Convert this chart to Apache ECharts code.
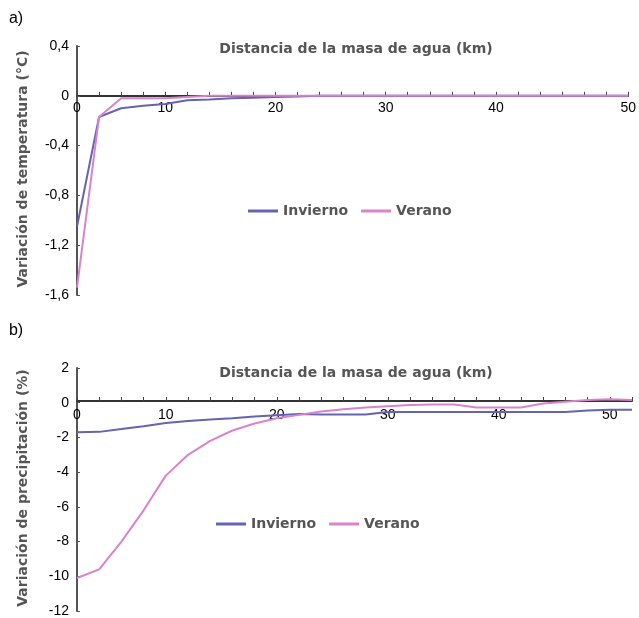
<!DOCTYPE html>
<html>
<head>
<meta charset="utf-8">
<script src="https://cdn.jsdelivr.net/npm/echarts@6/dist/echarts.min.js"></script>
<style>html,body{margin:0;padding:0;background:#fff;}#c{width:639px;height:618px;}</style>
</head>
<body>
<div id="c"></div>
<script>
// ---- data (x in axis units, tick every 2) ----
const xA = [0, 2, 4, 6, 8, 10, 12, 14, 16, 18, 20, 22, 24, 26, 28, 30, 32, 34, 36, 38, 40, 42, 44, 46, 48, 50];
const tempInvierno = [-1.05, -0.17, -0.10, -0.08, -0.065, -0.035, -0.03, -0.02, -0.015, -0.01, -0.005, 0, 0, 0, 0, 0, 0, 0, 0, 0, 0, 0, 0, 0, 0, 0];
const tempVerano   = [-1.54, -0.17, -0.02, -0.02, -0.02, -0.01, 0, 0, 0, 0, 0, 0, 0, 0, 0, 0, 0, 0, 0, 0, 0, 0, 0, 0, 0, 0];
const precInvierno = [-1.7, -1.68, -1.52, -1.35, -1.17, -1.05, -0.97, -0.9, -0.8, -0.72, -0.65, -0.68, -0.68, -0.68, -0.53, -0.53, -0.53, -0.53, -0.53, -0.53, -0.53, -0.53, -0.53, -0.45, -0.4, -0.4];
const precVerano   = [-10.1, -9.6, -8.0, -6.2, -4.2, -3.0, -2.2, -1.6, -1.2, -0.9, -0.7, -0.5, -0.38, -0.28, -0.2, -0.13, -0.1, -0.1, -0.28, -0.28, -0.28, -0.05, 0.05, 0.15, 0.2, 0.15];
const xTickLabels = ['0', '10', '20', '30', '40', '50'];
const xLabelPosA = [0, 8, 18, 28, 38, 50];
const xLabelPosB = [0, 8, 18, 28, 38, 48];
const seriesNames = ['Invierno', 'Verano'];
const xTitle = 'Distancia de la masa de agua (km)';
const yTitleA = 'Variación de temperatura (°C)';
const yTitleB = 'Variación de precipitación (%)';

const C_INV = '#6464b2';
const C_VER = '#d883cc';
const FONT = '"Liberation Sans", Arial, sans-serif';
const BFONT = '"DejaVu Sans", sans-serif';

function pairs(xs, ys) { return xs.map((x, i) => [x, ys[i]]); }

// grid geometry
const GA = { left: 77, top: 46, width: 556, height: 249 };
const GB = { left: 77, top: 368, width: 555, height: 245 };
// distance of y=0 from grid bottom
function zeroOffset(g, min, max) { return g.height * (0 - min) / (max - min); }

function xAxisCfg(gi, pos, off) {
  return {
    type: 'value', gridIndex: gi, min: 0, max: 50, interval: 2,
    position: 'bottom', offset: -off,
    axisLine: { onZero: false, lineStyle: { color: '#333', width: 2 } },
    axisTick: { inside: true, length: 4, lineStyle: { color: '#444', width: 1 } },
    splitLine: { show: false },
    axisLabel: {
      margin: gi === 0 ? 5 : 7, color: '#000', fontSize: 14, fontFamily: FONT,
      showMinLabel: true, showMaxLabel: true,
      formatter: v => { const i = pos.indexOf(Math.round(v)); return i >= 0 ? xTickLabels[i] : ''; }
    }
  };
}
function yAxisCfg(gi, min, max, interval) {
  return {
    type: 'value', gridIndex: gi, min, max, interval,
    axisLine: { show: true, onZero: false, lineStyle: { color: '#555', width: 2 } },
    axisTick: { show: true, inside: true, length: 3, lineStyle: { color: '#555' } },
    splitLine: { show: false },
    axisLabel: {
      margin: 8, color: '#000', fontSize: 14, fontFamily: FONT,
      formatter: v => String(Math.round(v * 10) / 10).replace('.', ',')
    }
  };
}
function lineSeries(name, xi, data, color) {
  return { name, type: 'line', xAxisIndex: xi, yAxisIndex: xi, data, symbol: 'none',
    lineStyle: { color, width: 2 }, itemStyle: { color }, animation: false };
}
function legendCfg(left, top) {
  return { data: seriesNames, left, top, icon: 'rect', itemWidth: 30, itemHeight: 3, itemGap: 13,
    textStyle: { color: '#555', fontWeight: 'bold', fontSize: 14, fontFamily: BFONT } };
}
function txt(x, y, text, font, fill, rot) {
  return { type: 'text', x, y, rotation: rot || 0,
    style: { text, font, fill, textAlign: 'center', textVerticalAlign: 'middle' } };
}

const chart = echarts.init(document.getElementById('c'), null, { renderer: 'canvas' });
chart.setOption({
  animation: false,
  grid: [GA, GB],
  xAxis: [xAxisCfg(0, xLabelPosA, zeroOffset(GA, -1.6, 0.4)), xAxisCfg(1, xLabelPosB, zeroOffset(GB, -12, 2))],
  yAxis: [yAxisCfg(0, -1.6, 0.4, 0.4), yAxisCfg(1, -12, 2, 2)],
  legend: [legendCfg(243, 199), legendCfg(211, 512)],
  series: [
    lineSeries(seriesNames[0], 0, pairs(xA, tempInvierno), C_INV),
    lineSeries(seriesNames[1], 0, pairs(xA, tempVerano), C_VER),
    lineSeries(seriesNames[0], 1, pairs(xA, precInvierno), C_INV),
    lineSeries(seriesNames[1], 1, pairs(xA, precVerano), C_VER)
  ],
  graphic: [
    txt(16, 19, 'a)', '16px ' + FONT, '#000'),
    txt(16, 331, 'b)', '16px ' + FONT, '#000'),
    txt(356, 49, xTitle, 'bold 14px ' + BFONT, '#555'),
    txt(356, 373, xTitle, 'bold 14px ' + BFONT, '#555'),
    txt(23, 169, yTitleA, 'bold 14px ' + BFONT, '#555', Math.PI / 2),
    txt(23, 488, yTitleB, 'bold 14px ' + BFONT, '#555', Math.PI / 2)
  ]
});
</script>
</body>
</html>
